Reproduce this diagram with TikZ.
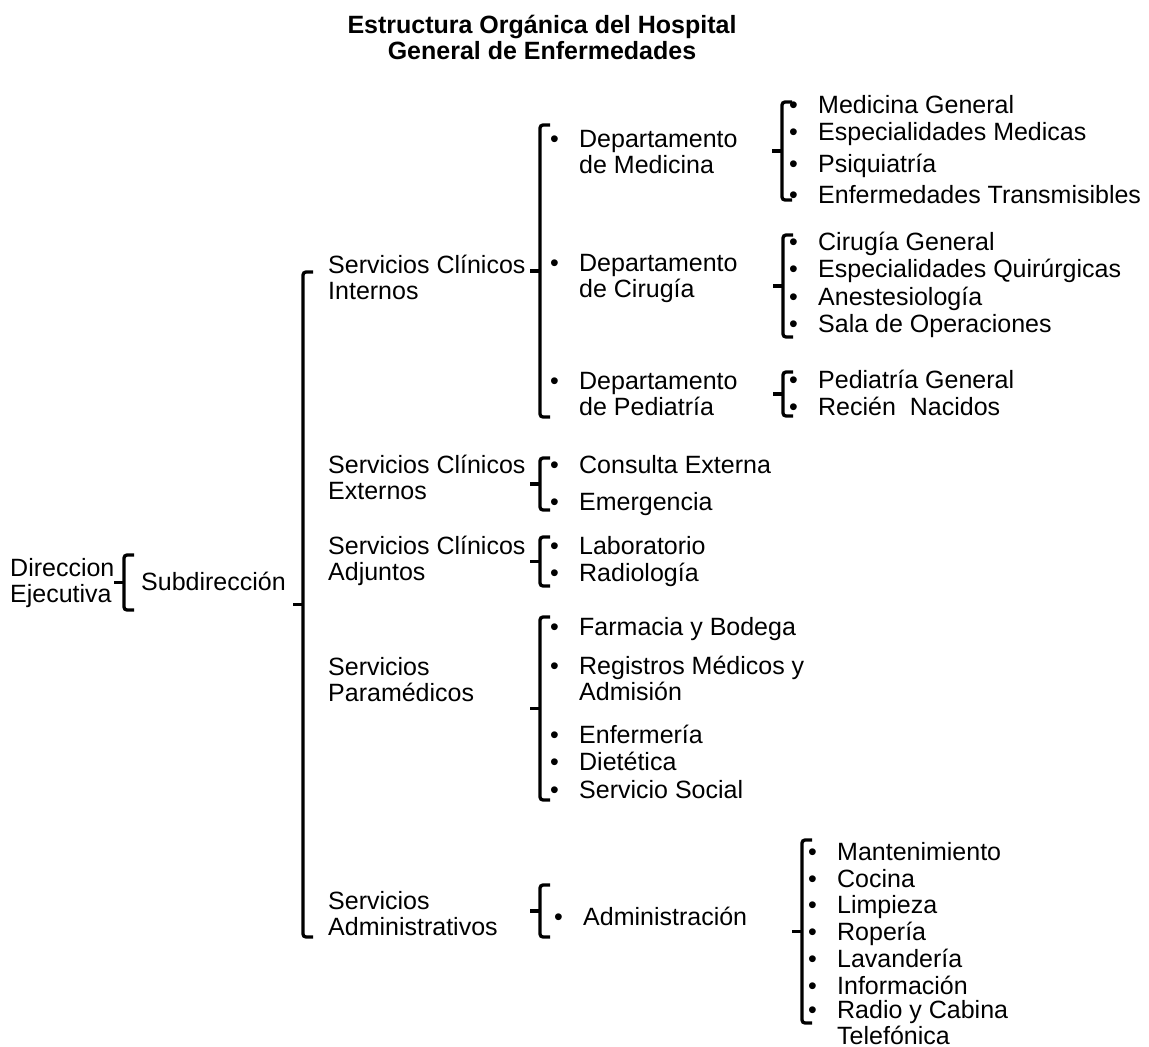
\documentclass[tikz,border=0pt]{standalone}
\usepackage{fontspec}
\setmainfont{Liberation Sans}
\tikzset{
  % Plain labels
  etiqueta/.style={
    anchor=west, inner sep=0pt,
    font=\fontsize{25}{26}\selectfont
  },
  % Title
  titulo/.style={
    align=center, inner sep=0pt,
    font=\fontsize{25}{26}\selectfont\bfseries
  },
  % Brace strokes
  llavetrazo/.style={
    line width=3.3pt, rounded corners=3pt
  },
}
\newcommand{\lineas}[1]{\begin{tabular}{@{}l@{}}#1\end{tabular}}
\newcommand{\vineta}[1]{\makebox[29pt][l]{\textbullet}\begin{tabular}[t]{@{}l@{}}#1\end{tabular}}
% name, x, top, bottom
\newcommand{\llave}[4]{%
  \begin{scope}[shift={(#2,0)}]
    \draw[llavetrazo] (10,#3) -- (0,#3) -- (0,#4) -- (10,#4);     % hooks + spine
    \draw[line width=3.3pt] (-10,{(#3+#4)/2}) -- (1,{(#3+#4)/2}); % tip
    \coordinate (#1) at (0,{(#3+#4)/2});
  \end{scope}
}

\begin{document}
\begin{tikzpicture}[x=1pt, y=-1pt]

  \useasboundingbox (0,0) rectangle (1149,1047);

  %% ── Title ──
  \node[titulo] (titulo) at (542,37) {Estructura Orgánica del Hospital\\General de Enfermedades};

  %% ── Level 0 / 1 ──
  \node[etiqueta] (direccion) at (10,584)  {\lineas{Direccion\\Ejecutiva}};
  \llave{llDir}{124}{555}{610}
  \node[etiqueta] (subdir)    at (141,585) {\lineas{Subdirección}};
  \llave{llSub}{303}{272}{937}

  %% ── Services ──
  \node[etiqueta] (internos)   at (328,281) {\lineas{Servicios Clínicos\\Internos}};
  \node[etiqueta] (externos)   at (328,481) {\lineas{Servicios Clínicos\\Externos}};
  \node[etiqueta] (adjuntos)   at (328,562) {\lineas{Servicios Clínicos\\Adjuntos}};
  \node[etiqueta] (paramed)    at (328,683) {\lineas{Servicios\\Paramédicos}};
  \node[etiqueta] (administ)   at (328,917) {\lineas{Servicios\\Administrativos}};

  %% ── Internos ──
  \llave{llInt}{540}{125}{417}
  \node[etiqueta] (depMed) at (550,155) {\vineta{Departamento\\de Medicina}};
  \node[etiqueta] (depCir) at (550,279) {\vineta{Departamento\\de Cirugía}};
  \node[etiqueta] (depPed) at (550,397) {\vineta{Departamento\\de Pediatría}};

  \llave{llMed}{782}{102}{200}
  \node[etiqueta] (medGen)  at (789,108) {\vineta{Medicina General}};
  \node[etiqueta] (espMed)  at (789,135) {\vineta{Especialidades Medicas}};
  \node[etiqueta] (psiq)    at (789,167) {\vineta{Psiquiatría}};
  \node[etiqueta] (enfTr)   at (789,198) {\vineta{Enfermedades Transmisibles}};

  \llave{llCir}{783}{235}{337}
  \node[etiqueta] (cirGen)  at (789,245) {\vineta{Cirugía General}};
  \node[etiqueta] (espQx)   at (789,272) {\vineta{Especialidades Quirúrgicas}};
  \node[etiqueta] (anest)   at (789,300) {\vineta{Anestesiología}};
  \node[etiqueta] (salaOp)  at (789,327) {\vineta{Sala de Operaciones}};

  \llave{llPed}{783}{372}{416}
  \node[etiqueta] (pedGen)  at (789,383) {\vineta{Pediatría General}};
  \node[etiqueta] (recNac)  at (789,410) {\vineta{Recién\ \ Nacidos}};

  %% ── Externos ──
  \llave{llExt}{540}{458}{510}
  \node[etiqueta] (consExt) at (550,468) {\vineta{Consulta Externa}};
  \node[etiqueta] (emerg)   at (550,505) {\vineta{Emergencia}};

  %% ── Adjuntos ──
  \llave{llAdj}{540}{537}{586}
  \node[etiqueta] (lab)     at (550,549) {\vineta{Laboratorio}};
  \node[etiqueta] (radiol)  at (550,576) {\vineta{Radiología}};

  %% ── Paramédicos ──
  \llave{llPar}{540}{617}{800}
  \node[etiqueta] (farm)    at (550,630) {\vineta{Farmacia y Bodega}};
  \node[etiqueta] (regMed)  at (550,682) {\vineta{Registros Médicos y\\Admisión}};
  \node[etiqueta] (enfer)   at (550,738) {\vineta{Enfermería}};
  \node[etiqueta] (diet)    at (550,765) {\vineta{Dietética}};
  \node[etiqueta] (servSoc) at (550,793) {\vineta{Servicio Social}};

  %% ── Administrativos ──
  \llave{llAdm}{540}{885}{937}
  \node[etiqueta] (admin)   at (554,920) {\vineta{Administración}};

  \llave{llGen}{802}{840}{1023}
  \node[etiqueta] (mant)    at (808,855)  {\vineta{Mantenimiento}};
  \node[etiqueta] (cocina)  at (808,882)  {\vineta{Cocina}};
  \node[etiqueta] (limp)    at (808,908)  {\vineta{Limpieza}};
  \node[etiqueta] (ropa)    at (808,935)  {\vineta{Ropería}};
  \node[etiqueta] (lavand)  at (808,962)  {\vineta{Lavandería}};
  \node[etiqueta] (info)    at (808,989)  {\vineta{Información}};
  \node[etiqueta] (radio)   at (808,1026) {\vineta{Radio y Cabina\\Telefónica}};

\end{tikzpicture}
\end{document}
